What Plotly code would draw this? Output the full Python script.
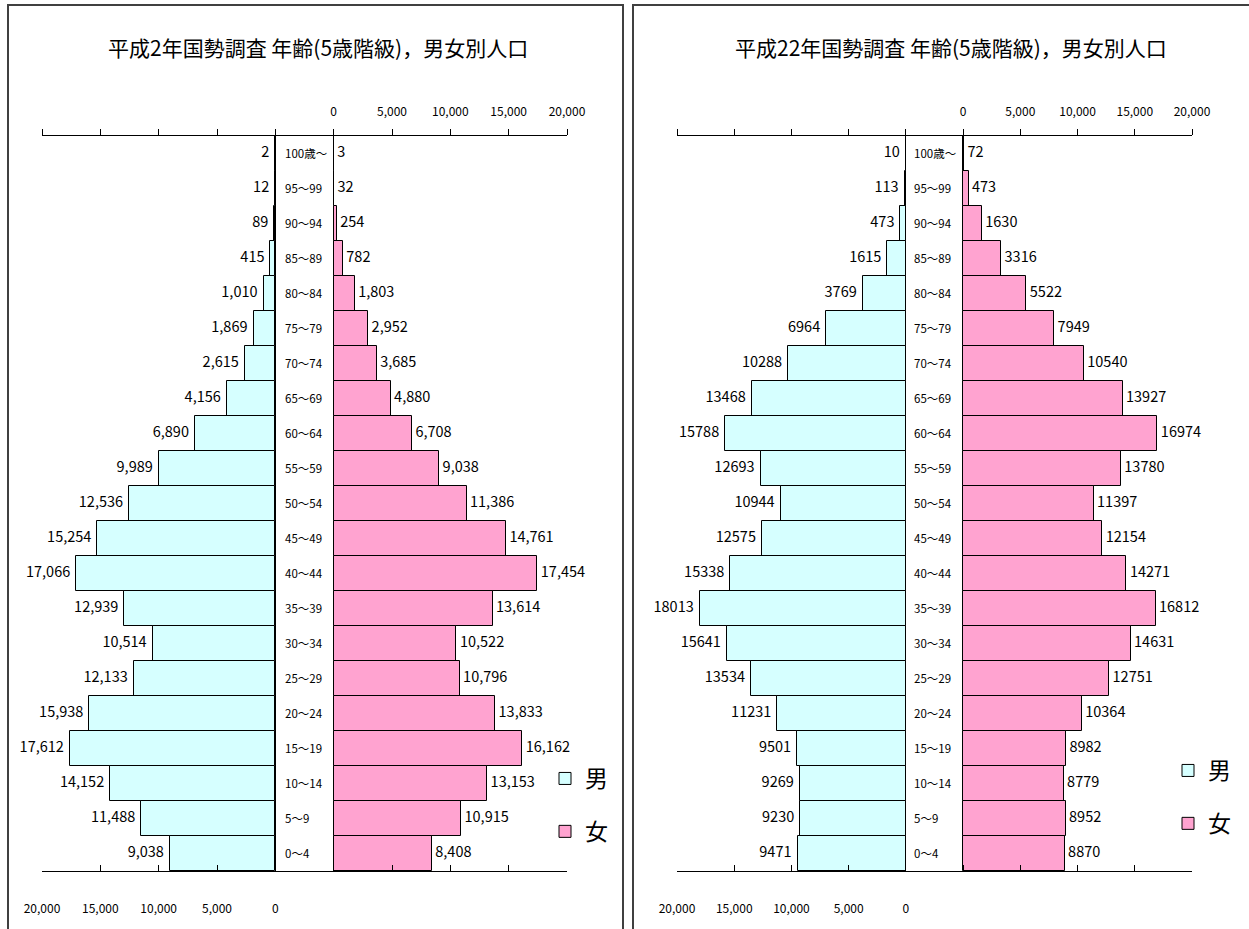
import plotly.graph_objects as go

W, H = 1249, 929

# ---------------- data ----------------
ages = ["100歳～", "95～99", "90～94", "85～89", "80～84", "75～79", "70～74",
        "65～69", "60～64", "55～59", "50～54", "45～49", "40～44", "35～39",
        "30～34", "25～29", "20～24", "15～19", "10～14", "5～9", "0～4"]

male_h2 = [2, 12, 89, 415, 1010, 1869, 2615, 4156, 6890, 9989, 12536, 15254,
           17066, 12939, 10514, 12133, 15938, 17612, 14152, 11488, 9038]
female_h2 = [3, 32, 254, 782, 1803, 2952, 3685, 4880, 6708, 9038, 11386, 14761,
             17454, 13614, 10522, 10796, 13833, 16162, 13153, 10915, 8408]

male_h22 = [10, 113, 473, 1615, 3769, 6964, 10288, 13468, 15788, 12693, 10944,
            12575, 15338, 18013, 15641, 13534, 11231, 9501, 9269, 9230, 9471]
female_h22 = [72, 473, 1630, 3316, 5522, 7949, 10540, 13927, 16974, 13780, 11397,
              12154, 14271, 16812, 14631, 12751, 10364, 8982, 8779, 8952, 8870]

titles = ["平成2年国勢調査 年齢(5歳階級)，男女別人口",
          "平成22年国勢調査 年齢(5歳階級)，男女別人口"]

male_tickvals = [20000, 15000, 10000, 5000, 0, -5000, -10000, -15000, -20000, -25000]
male_ticktext = ["20,000", "15,000", "10,000", "5,000", "0", "", "", "", "", ""]
female_tickvals = [-25000, -20000, -15000, -10000, -5000, 0, 5000, 10000, 15000, 20000]
female_ticktext = ["", "", "", "", "", "0", "5,000", "10,000", "15,000", "20,000"]
male_range = [20000, -25000]
female_range = [-25000, 20000]

MALE_C = "#D6FFFF"
FEMALE_C = "#FFA3D0"
FONT = "Noto Sans CJK JP"


def px(xp):
    return xp / W


def py(yp):
    return 1 - yp / H


fig = go.Figure()

panels = [
    dict(male=male_h2, female=female_h2, fmt="%{x:,}", xm="x", xf="x2", y="y",
         leg="legend"),
    dict(male=male_h22, female=female_h22, fmt="%{x:d}", xm="x3", xf="x4", y="y2",
         leg="legend2"),
]

label_font = dict(size=14.5, color="black", family=FONT)

for i, p in enumerate(panels):
    fig.add_trace(go.Bar(
        x=p["male"], y=ages, orientation="h", xaxis=p["xm"], yaxis=p["y"],
        name="男", legend=p["leg"], legendgroup=f"m{i}",
        marker=dict(color=MALE_C, line=dict(color="black", width=1)),
        hoverinfo="x+y"))
    fig.add_trace(go.Bar(
        x=p["female"], y=ages, orientation="h", xaxis=p["xf"], yaxis=p["y"],
        name="女", legend=p["leg"], legendgroup=f"f{i}",
        marker=dict(color=FEMALE_C, line=dict(color="black", width=1)),
        hoverinfo="x+y"))
    # value labels
    fig.add_trace(go.Scatter(
        x=p["male"], y=ages, xaxis=p["xm"], yaxis=p["y"], mode="markers+text",
        marker=dict(size=8, opacity=0), texttemplate=p["fmt"],
        textposition="middle left", textfont=label_font, cliponaxis=False,
        showlegend=False, hoverinfo="skip"))
    fig.add_trace(go.Scatter(
        x=p["female"], y=ages, xaxis=p["xf"], yaxis=p["y"], mode="markers+text",
        marker=dict(size=4, opacity=0), texttemplate=p["fmt"],
        textposition="middle right", textfont=label_font, cliponaxis=False,
        showlegend=False, hoverinfo="skip"))

y_dom = [py(871), py(136)]
tickfont = dict(size=12, color="black", family=FONT)


def male_axis(dom, anchor):
    return dict(domain=dom, range=male_range, anchor=anchor, side="bottom",
                tickmode="array", tickvals=male_tickvals, ticktext=male_ticktext,
                showline=True, linecolor="black", linewidth=1,
                ticks="inside", ticklen=6, tickcolor="black", tickwidth=1,
                ticklabelstandoff=27, tickfont=tickfont,
                showgrid=False, zeroline=True, zerolinecolor="black",
                zerolinewidth=1, fixedrange=True)


def female_axis(dom, anchor, overlay):
    return dict(domain=dom, range=female_range, anchor=anchor, side="top",
                overlaying=overlay,
                tickmode="array", tickvals=female_tickvals, ticktext=female_ticktext,
                showline=True, linecolor="black", linewidth=1,
                ticks="outside", ticklen=6, tickcolor="black", tickwidth=1,
                ticklabelstandoff=8, tickfont=tickfont,
                showgrid=False, zeroline=False, fixedrange=True)


def age_axis(pos):
    return dict(domain=y_dom, type="category", categoryorder="array",
                categoryarray=ages[::-1], range=[-0.5, len(ages) - 0.5],
                anchor="free", position=pos, side="right",
                showline=False, ticks="", showgrid=False, zeroline=False,
                tickfont=dict(size=11.5, color="black", family=FONT),
                fixedrange=True)


left_dom = [px(42), px(567)]
right_dom = [px(677), px(1192)]

legend_common = dict(font=dict(size=23, color="black", family=FONT),
                     bgcolor="rgba(0,0,0,0)", borderwidth=0, tracegroupgap=20,
                     xanchor="left", yanchor="top", itemclick=False,
                     itemdoubleclick=False)

fig.update_layout(
    width=W, height=H,
    margin=dict(l=0, r=0, t=0, b=0, autoexpand=False),
    paper_bgcolor="white", plot_bgcolor="rgba(0,0,0,0)",
    font=dict(family=FONT, color="black"),
    barmode="overlay", bargap=0,
    xaxis=male_axis(left_dom, "y"),
    xaxis2=female_axis(left_dom, "y", "x"),
    xaxis3=male_axis(right_dom, "y2"),
    xaxis4=female_axis(right_dom, "y2", "x3"),
    yaxis=age_axis(px(284)),
    yaxis2=age_axis(px(913)),
    legend=dict(x=px(545), y=py(757), **legend_common),
    legend2=dict(x=px(1168), y=py(749), **legend_common),
    annotations=[
        dict(text=titles[0], x=px(318), y=py(47), xref="paper", yref="paper",
             showarrow=False, xanchor="center", yanchor="middle",
             font=dict(size=21, color="black", family=FONT)),
        dict(text=titles[1], x=px(951), y=py(47), xref="paper", yref="paper",
             showarrow=False, xanchor="center", yanchor="middle",
             font=dict(size=21, color="black", family=FONT)),
    ],
    shapes=[
        dict(type="rect", xref="paper", yref="paper", x0=px(8), x1=px(623),
             y0=py(940), y1=py(5), line=dict(color="#404040", width=2),
             fillcolor="rgba(0,0,0,0)", layer="below"),
        dict(type="rect", xref="paper", yref="paper", x0=px(633), x1=px(1260),
             y0=py(940), y1=py(5), line=dict(color="#404040", width=2),
             fillcolor="rgba(0,0,0,0)", layer="below"),
    ],
)

fig.write_html("out.html")
